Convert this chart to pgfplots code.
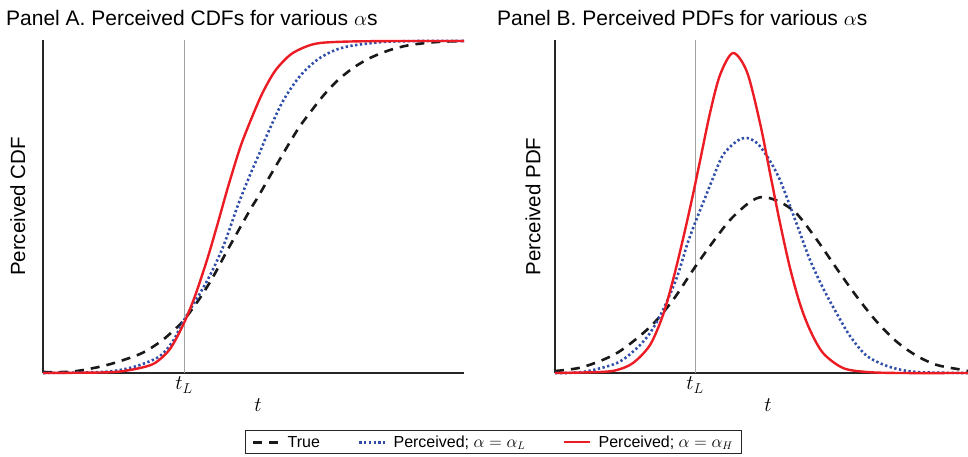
\documentclass[border=0pt]{standalone}
\usepackage{fontspec}
\setmainfont{Liberation Sans}
\usepackage{pgfplots}
\pgfplotsset{compat=1.18}
\definecolor{cred}{RGB}{236,28,36}
\definecolor{cblue}{RGB}{48,78,168}
\definecolor{cblack}{RGB}{25,25,25}
\definecolor{cgray}{RGB}{160,160,160}
\pgfplotsset{
  panel/.style={
    scale only axis, height=333pt, ymin=0, ymax=333,
    axis lines=left, axis line style={-, line width=1.2pt, black!85},
    ytick=\empty, major tick length=0pt, clip=false,
    xticklabels={$t_L$},
    xticklabel style={font=\fontsize{20.5}{24}\selectfont, inner sep=4pt},
    label style={font=\fontsize{20.5}{24}\selectfont},
  },
  truestyle/.style={cblack, line width=2.6pt, dash pattern=on 9pt off 7pt, smooth, tension=0.5},
  lowstyle/.style={cblue, line width=2.6pt, dash pattern=on 2.3pt off 2.5pt, smooth, tension=0.5},
  highstyle/.style={cred, line width=2.4pt, smooth, tension=0.5},
  legend image code/.code={\draw[#1] (0pt,0pt) -- (26pt,0pt);},
}
\begin{document}
\begin{tikzpicture}[x=1pt,y=1pt]
\useasboundingbox (0,0) rectangle (968,456);
\node[anchor=base west, font=\fontsize{21}{25}\selectfont, inner sep=0pt] at (6,430) {Panel A. Perceived CDFs for various $\alpha$s};
\node[anchor=base west, font=\fontsize{21}{25}\selectfont, inner sep=0pt] at (497,430) {Panel B. Perceived PDFs for various $\alpha$s};
% Panel A
\begin{axis}[panel, at={(43pt,83pt)}, anchor=south west, width=421pt,
  xmin=43, xmax=464, xtick={184},
  ylabel={Perceived CDF},
  ylabel style={at={(axis description cs:-0.06,0.5)}, anchor=center},
  xlabel={$t$},
  xlabel style={at={(axis description cs:0.511,-0.096)}, anchor=center},
  legend columns=3,
  legend style={at={(rel axis cs:1.070,-0.208)}, anchor=center, draw=black!85, line width=0.9pt,
    font=\fontsize{16}{19}\selectfont, inner ysep=3pt, inner xsep=7pt,
    /tikz/every odd column/.append style={column sep=5pt},
    /tikz/every even column/.append style={column sep=36pt}},
]
\addplot[cgray, line width=1pt, forget plot] coordinates {(184,0) (184,333)};
\addplot[truestyle] coordinates {
(43,1) (73,1.5) (107,8) (140,19) (160,31) (173,42) (184,53) (200,75) (213,96) (227,122)
(250,163) (258,176) (270,197) (280,214) (290,231) (300,247) (312,263) (323,277)
(337,292) (353,305) (370,315) (390,323) (410,328) (437,331) (464,332)};
\addlegendentry{True}
\addplot[lowstyle] coordinates {
(43,0) (100,1) (120,3) (140,8) (160,17) (173,32) (184,53) (207,92) (223,126) (238,168)
(250,198) (260,221) (267,238) (283,272) (300,297) (317,313) (333,322) (350,327)
(383,331) (420,332) (464,332)};
\addlegendentry{Perceived; $\alpha=\alpha_L$}
\addplot[highstyle] coordinates {
(43,0) (100,0.5) (120,1.5) (140,5) (155,10) (170,24) (184,50) (195,77) (207,113)
(217,147) (228,186) (240,225) (250,251) (262,279) (275,302) (290,318) (305,326)
(320,330) (350,331.5) (400,332) (464,332)};
\addlegendentry{Perceived; $\alpha=\alpha_H$}
\end{axis}
% Panel B
\begin{axis}[panel, at={(555pt,83pt)}, anchor=south west, width=413pt,
  xmin=555, xmax=968, xtick={695},
  ylabel={Perceived PDF},
  ylabel style={at={(axis description cs:-0.053,0.5)}, anchor=center},
  xlabel={$t$},
  xlabel style={at={(axis description cs:0.516,-0.096)}, anchor=center},
]
\addplot[cgray, line width=1pt, forget plot] coordinates {(695,0) (695,333)};
\addplot[truestyle] coordinates {
(555,2) (583,6) (617,20) (650,46) (673,73) (693,103) (710,127) (730,153) (750,171)
(763,176) (780,171) (797,159) (817,133) (837,104) (857,76) (877,51) (897,31)
(917,17) (937,8) (963,3) (968,2)};
\addplot[lowstyle] coordinates {
(555,0) (583,1) (617,10) (637,25) (650,40) (663,63) (677,96) (687,128) (695,150)
(705,175) (713,195) (723,218) (737,232) (747,235) (758,229) (770,212) (780,193)
(790,167) (800,140) (810,113) (823,85) (837,59) (850,37) (867,17) (890,6) (917,1) (968,0)};
\addplot[highstyle] coordinates {
(555,0) (600,1) (617,3) (633,10) (650,28) (663,58) (673,93) (683,134) (692,174)
(700,212) (710,260) (720,298) (733,320) (747,301) (760,250) (770,200) (780,150)
(790,105) (800,69) (810,43) (823,20) (843,5) (867,1) (900,0) (968,0)};
\end{axis}
\end{tikzpicture}
\end{document}
